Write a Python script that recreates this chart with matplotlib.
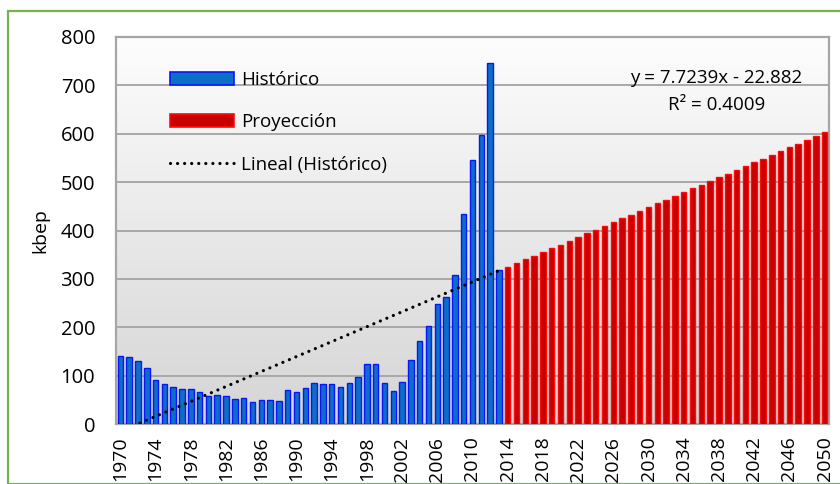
import numpy as np
import matplotlib
matplotlib.use("Agg")
import matplotlib.pyplot as plt
from matplotlib.patches import Rectangle, Patch
from matplotlib.lines import Line2D

plt.rcParams['font.family'] = ['Open Sans', 'DejaVu Sans']

# Serie histórica (kbep) 1970-2013
years_hist = list(range(1970, 2014))
hist = [141, 139, 130, 115, 91, 83, 76, 73, 72, 66,
        57, 59, 57, 51, 53, 45, 50, 50, 47, 70,
        66, 75, 84, 83, 83, 76, 84, 97, 123, 124,
        85, 69, 86, 132, 172, 203, 248, 263, 309, 435,
        545, 597, 747, 319]

# Proyección 2014-2050
years_proj = list(range(2014, 2051))
proj = [324.7, 332.4, 340.1, 347.9, 355.6, 363.3, 371.0, 378.8, 386.5, 394.2,
        401.9, 409.7, 417.4, 425.1, 432.8, 440.6, 448.3, 456.0, 463.7, 471.5,
        479.2, 486.9, 494.6, 502.3, 510.1, 517.8, 525.5, 533.2, 541.0, 548.7,
        556.4, 564.1, 571.9, 579.6, 587.3, 595.0, 602.8]

# tendencia lineal sobre el histórico (x = 1 para 1970)
slope = 7.7239
intercept = -22.882
r2 = 0.4009

xticks = list(range(1970, 2051, 4))

fig = plt.figure(figsize=(8.4, 4.84), dpi=100)
ax = fig.add_axes([116 / 840, 1 - 424 / 484, (829 - 116) / 840, (424 - 37) / 484])

# marco verde del gráfico
fig.patches.append(Rectangle((8 / 840, 0), 1.2, 1 - 10.5 / 484, transform=fig.transFigure,
                             fill=False, edgecolor='#77b24c', linewidth=1.6, clip_on=False))

# fondo degradado del área de trazado
grad = np.linspace(0, 1, 256).reshape(-1, 1)
cmap = matplotlib.colors.LinearSegmentedColormap.from_list('g', ['#d5d5d5', '#fdfdfd'])
ax.imshow(grad, extent=[0, 1, 0, 1], transform=ax.transAxes, aspect='auto',
          cmap=cmap, origin='lower', zorder=0)

ax.bar(years_hist, hist, width=0.62, color='#0b6fc6', edgecolor='#0a14ff',
       linewidth=1.0, zorder=3)
ax.bar(years_proj, proj, width=0.62, color='#c80000', edgecolor='#ff0a0a',
       linewidth=1.0, zorder=3)

xi = np.arange(1, len(years_hist) + 1)
trend = slope * xi + intercept
ax.plot(years_hist, trend, color='black', linewidth=2.3,
        linestyle=(0, (0.01, 2.2)), dash_capstyle='round', zorder=4)

ax.set_xlim(1969.5, 2050.5)
ax.set_ylim(0, 800)
ax.set_yticks(range(0, 801, 100))
ax.set_xticks(xticks)
ax.set_xticklabels([str(y) for y in xticks], rotation=90)
ax.tick_params(axis='y', length=0, pad=15, labelsize=14.5)
ax.tick_params(axis='x', length=0, pad=9, labelsize=14)
ax.yaxis.grid(True, color='#a8a8a8', linewidth=1.4, zorder=1)
ax.set_axisbelow(True)
for s in ax.spines.values():
    s.set_color('#a6a6a6')
    s.set_linewidth(1.6)
ax.set_ylabel('kbep', fontsize=14, labelpad=8)

handles = [Patch(facecolor='#0b6fc6', edgecolor='#0a14ff', linewidth=1.2),
           Patch(facecolor='#c80000', edgecolor='#ff0a0a', linewidth=1.2),
           Line2D([0], [0], color='black', linewidth=2.3,
                  linestyle=(0, (0.01, 2.2)), dash_capstyle='round')]
ax.legend(handles, ['Histórico', 'Proyección', 'Lineal (Histórico)'],
          loc='upper left', bbox_to_anchor=(0.052, 0.956), frameon=False,
          fontsize=13.5, handlelength=3.4, handleheight=0.7,
          handletextpad=0.4, labelspacing=1.3)

ax.text(0.842, 0.894, 'y = 7.7239x - 22.882', transform=ax.transAxes,
        ha='center', va='center', fontsize=13.5, zorder=5)
ax.text(0.842, 0.824, 'R² = 0.4009', transform=ax.transAxes,
        ha='center', va='center', fontsize=13.5, zorder=5)

fig.savefig('out.png', dpi=100)
